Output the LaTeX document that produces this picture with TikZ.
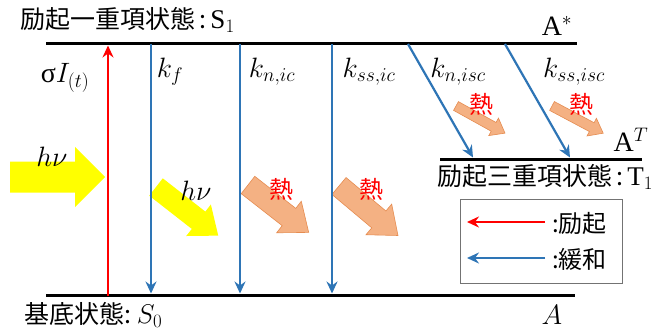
\RequirePackage{fix-cm}
\documentclass[tikz,border=0pt]{standalone}
\usepackage{fontspec}
\setmainfont{Liberation Serif}
\newfontfamily\jp{Noto Sans CJK JP}
\usetikzlibrary{arrows.meta}
\definecolor{myblue}{RGB}{46,117,182}
\definecolor{myred}{RGB}{255,0,0}
\definecolor{myorange}{RGB}{244,177,131}
\definecolor{myorangeedge}{RGB}{230,140,80}
\definecolor{myyellow}{RGB}{255,255,0}
\newcommand{\blockarrow}[8]{%
  \begin{scope}[shift={(#1,#2)},rotate=#3]
    \path[#8] (0,-#5/2) -- (#4-#7,-#5/2) -- (#4-#7,-#6/2) -- (#4,0)
      -- (#4-#7,#6/2) -- (#4-#7,#5/2) -- (0,#5/2) -- cycle;
  \end{scope}}
\newcommand{\lat}[1]{{\fontsize{27}{30}\selectfont #1}}
\begin{document}
\begin{tikzpicture}[x=1pt,y=-1pt,
  level/.style={line width=3pt, black},
  relax/.style={myblue, line width=2.2pt, -{Stealth[length=12pt,width=11pt,inset=4pt]}},
  excite/.style={myred, line width=2.2pt, -{Stealth[length=12pt,width=11pt,inset=4pt]}},
  jplabel/.style={font=\jp\fontsize{25}{28}\selectfont, inner sep=0pt},
  mlabel/.style={font=\fontsize{28}{31}\selectfont, inner sep=0pt},
  heat/.style={text=myred, font=\jp\fontsize{24}{26}\selectfont, inner sep=0pt},
  orangearrow/.style={fill=myorange, draw=myorangeedge, line width=0.6pt},
  yellowarrow/.style={fill=myyellow},
  legtext/.style={font=\jp\fontsize{24}{26}\selectfont, inner sep=0pt, anchor=west},
  legarrow/.style={line width=2.2pt, -{Stealth[length=12pt,width=11pt,inset=4pt]}},
]
\useasboundingbox[fill=white] (0,0) rectangle (660,331);

% block arrows (drawn first, behind lines)
\blockarrow{10}{177}{0}{95}{31}{60}{30}{yellowarrow}
\blockarrow{156}{187}{-38}{79}{22}{40}{25}{yellowarrow}
\blockarrow{248}{185}{-38}{77}{22}{40}{25}{orangearrow}
\blockarrow{339}{186}{-40}{77}{22}{40}{25}{orangearrow}
\blockarrow{456}{106}{-29}{56}{10}{20}{13}{orangearrow}
\blockarrow{552}{106}{-28}{58}{10}{20}{13}{orangearrow}

% levels
\coordinate (s1L) at (46,44);  \coordinate (s1R) at (577,44);
\coordinate (s0L) at (46,295); \coordinate (s0R) at (575,295);
\coordinate (t1L) at (440,159); \coordinate (t1R) at (642,159);
\draw[level] (s1L) -- (s1R);
\draw[level] (s0L) -- (s0R);
\draw[level] (t1L) -- (t1R);

% transitions
\coordinate (ex0) at (108,296); \coordinate (ex1) at (108,45.5);
\draw[excite] (ex0) -- (ex1);
\coordinate (f1) at (151,44); \coordinate (f0) at (151,293.5);
\coordinate (n1) at (240,44); \coordinate (n0) at (240,293.5);
\coordinate (s1) at (332,44); \coordinate (s0) at (332,293.5);
\coordinate (i1) at (408,44); \coordinate (i0) at (473,157.5);
\coordinate (j1) at (505,44); \coordinate (j0) at (570,157.5);
\draw[relax] (f1) -- (f0);
\draw[relax] (n1) -- (n0);
\draw[relax] (s1) -- (s0);
\draw[relax] (i1) -- (i0);
\draw[relax] (j1) -- (j0);

% labels
\node[jplabel, anchor=west] (tS1) at (20,20) {励起一重項状態\,:\,\lat{$\mathrm{S}_1$}};
\node[jplabel, anchor=west] (tT1) at (437,177) {励起三重項状態\,:\,\lat{$\mathrm{T}_1$}};
\node[jplabel, anchor=west] (tS0) at (24,315) {基底状態:\ \lat{$S_0$}};
\node[mlabel] (Astar) at (557,26) {$\mathrm{A}^{*}$};
\node[mlabel] (AT) at (631,140) {$\mathrm{A}^{T}$};
\node[mlabel] (Abot) at (552,315) {$A$};
\node[mlabel] (sig) at (65,78) {σ$I_{(t)}$};
\node[mlabel] (kf) at (170,72) {$k_f$};
\node[mlabel] (kn) at (272,72) {$k_{n,ic}$};
\node[mlabel] (kss) at (369,72) {$k_{ss,ic}$};
\node[mlabel] (knisc) at (458,72) {$k_{n,isc}$};
\node[mlabel] (kssisc) at (574,72) {$k_{ss,isc}$};
\node[mlabel] (hv1) at (52,157) {$h\nu$};
\node[mlabel] (hv2) at (196,191) {$h\nu$};
\node[heat] (h1) at (281,189) {熱};
\node[heat] (h2) at (371,189) {熱};
\node[heat] (h3) at (481,104) {熱};
\node[heat] (h4) at (581,104) {熱};

% legend
\node[draw=black!55, line width=1pt, minimum width=162pt, minimum height=84pt, inner sep=0pt] (legend) at (541,241) {};
\coordinate (lr1) at (545,222); \coordinate (lr0) at (467,222);
\coordinate (lb1) at (545,258); \coordinate (lb0) at (467,258);
\draw[legarrow, myred] (lr1) -- (lr0);
\draw[legarrow, myblue] (lb1) -- (lb0);
\node[legtext] (le1) at (552,223) {:励起};
\node[legtext] (le2) at (552,259) {:緩和};
\end{tikzpicture}
\end{document}
